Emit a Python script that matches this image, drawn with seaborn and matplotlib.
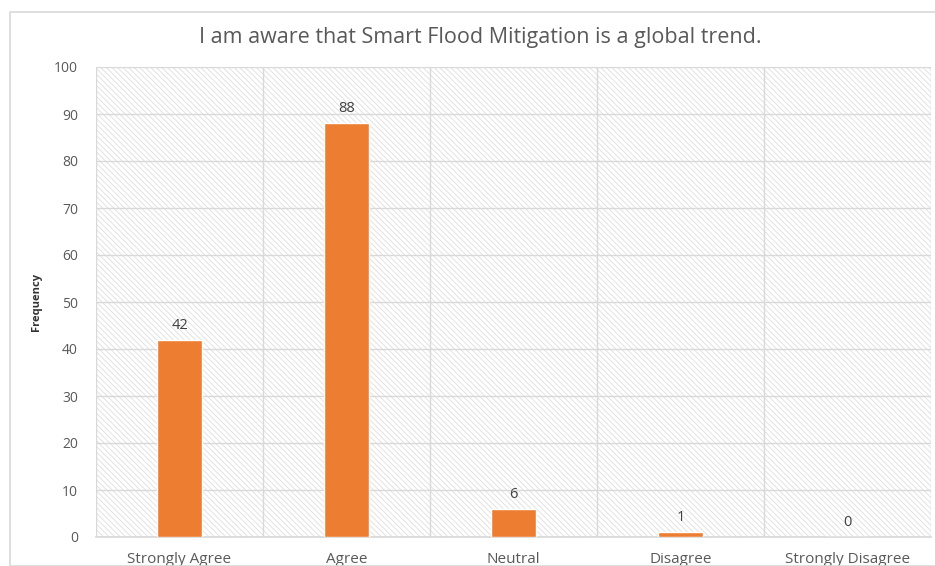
import matplotlib
matplotlib.use("Agg")
import matplotlib.pyplot as plt
import seaborn as sns
import pandas as pd
from matplotlib.patches import Rectangle

categories = ["Strongly Agree", "Agree", "Neutral", "Disagree", "Strongly Disagree"]
frequency = [42, 88, 6, 1, 0]
yticks = [0, 10, 20, 30, 40, 50, 60, 70, 80, 90, 100]
title = "I am aware that Smart Flood Mitigation is a global trend."

sns.set_theme(style="white")
plt.rcParams["font.family"] = ["Open Sans", "DejaVu Sans"]
plt.rcParams["hatch.linewidth"] = 0.6

df = pd.DataFrame({"Category": categories, "Frequency": frequency})

fig = plt.figure(figsize=(9.35, 5.66), dpi=100)
ax = fig.add_axes([96/935, 29/566, 835/935, 470/566])

# chart border
fig.patches.append(Rectangle((10/935, 0), 1.2, 554/566, transform=fig.transFigure,
                             fill=False, edgecolor="#d9d9d9", linewidth=1.2))

# hatched background
ax.set_facecolor("white")
ax.add_patch(Rectangle((0, 0), 1, 1, transform=ax.transAxes, facecolor="white",
                       hatch="\\\\\\\\\\\\", edgecolor="#dedede", linewidth=0, zorder=0))

sns.barplot(data=df, x="Category", y="Frequency", color="#ed7d31", width=0.275,
            saturation=1, ax=ax, zorder=3)

ax.set_ylim(0, 100)
ax.set_xlim(-0.5, 4.5)
ax.set_yticks(yticks)
ax.set_xticks([i + 0.5 for i in range(-1, 5)], minor=True)
ax.grid(True, axis="y", which="major", color="#d9d9d9", linewidth=1, zorder=1)
ax.grid(True, axis="x", which="minor", color="#d9d9d9", linewidth=1, zorder=1)
ax.set_axisbelow(True)
for s in ax.spines.values():
    s.set_visible(False)
ax.spines["bottom"].set_visible(True)
ax.spines["bottom"].set_color("#d9d9d9")

ax.tick_params(axis="both", which="both", length=0, colors="#595959")
ax.tick_params(axis="x", labelsize=11, pad=11)
ax.tick_params(axis="y", labelsize=10, pad=13)
ax.set_xlabel("")
ax.set_ylabel("Frequency", fontsize=8, fontweight="bold", color="#333333")
ax.yaxis.set_label_coords(-54/835, 0.5)

for i, v in enumerate(frequency):
    ax.annotate(str(v), (i, v), xytext=(0, 5), textcoords="offset points",
                ha="center", va="bottom", fontsize=10.5, color="#404040")

fig.text(480/935, 1 - 38/566, title, ha="center", va="center", fontsize=15.5, color="#595959")

fig.savefig("out.png", dpi=100)
